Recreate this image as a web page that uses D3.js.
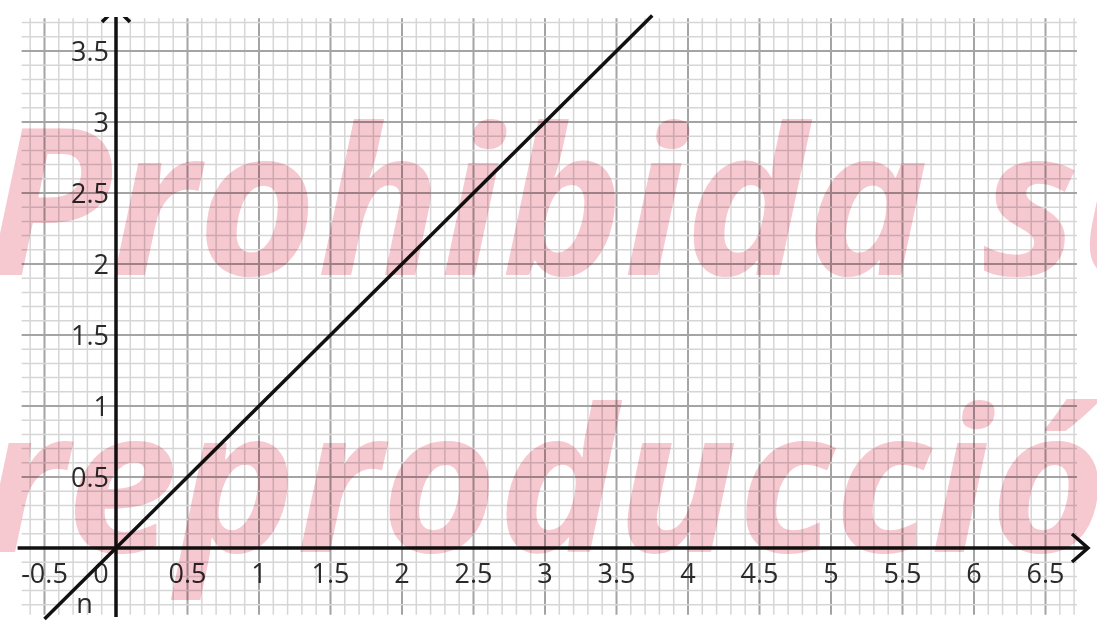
<!DOCTYPE html>
<html lang="es">
<head>
<meta charset="UTF-8">
<title>n</title>
<script src="https://d3js.org/d3.v7.min.js"></script>
<style>
  body { margin: 0; background: #fff; }
  svg { display: block; }
  .tick-label { font-family: 'Open Sans', sans-serif; font-size: 27px; fill: #2a2a2a; }
  .marca { font-family: 'Open Sans', sans-serif; font-weight: bold; font-style: italic; fill: #f6c8d0; mix-blend-mode: multiply; }
</style>
</head>
<body>
<svg width="1097" height="625"></svg>
<script>
// datos
const xTicks = [-0.5, 0, 0.5, 1, 1.5, 2, 2.5, 3, 3.5, 4, 4.5, 5, 5.5, 6, 6.5];
const yTicks = [0.5, 1, 1.5, 2, 2.5, 3, 3.5];
const lineX = [-0.5, 3.75];
const lineY = [-0.5, 3.75];
const lineName = "n";
const watermark = ["Prohibida su", "reproducción"];

const svg = d3.select("svg");

// escalas: 143 px por unidad en x, 142 en y
const x = d3.scaleLinear().domain([0, 1]).range([116, 259]);
const y = d3.scaleLinear().domain([0, 1]).range([548, 406]);

const gridLeft = -0.66, gridRight = 6.72, gridBottom = -0.47, gridTop = 3.73;

// rejilla fina (0.1)
const minorX = d3.range(-6, 68).map(i => i / 10);
const minorY = d3.range(-4, 38).map(i => i / 10);
const isMajor = d => Math.abs(d * 2 - Math.round(d * 2)) < 1e-6;

const grid = svg.append("g");
grid.selectAll(".mx").data(minorX).enter().append("line")
  .attr("x1", d => x(d)).attr("x2", d => x(d))
  .attr("y1", y(gridTop)).attr("y2", y(gridBottom))
  .attr("stroke", d => isMajor(d) ? "#a4a4a4" : "#d6d6d6")
  .attr("stroke-width", d => isMajor(d) ? 2 : 1.5);
grid.selectAll(".my").data(minorY).enter().append("line")
  .attr("y1", d => y(d)).attr("y2", d => y(d))
  .attr("x1", x(gridLeft)).attr("x2", x(gridRight))
  .attr("stroke", d => isMajor(d) ? "#a4a4a4" : "#d6d6d6")
  .attr("stroke-width", d => isMajor(d) ? 2 : 1.5);

// ejes
svg.append("line").attr("x1", x(gridLeft) - 4).attr("x2", 1088)
  .attr("y1", y(0)).attr("y2", y(0)).attr("stroke", "#111").attr("stroke-width", 3.5);
svg.append("path").attr("d", `M1072,534 L1088,${y(0)} L1072,562`)
  .attr("fill", "none").attr("stroke", "#111").attr("stroke-width", 3.5);
svg.append("line").attr("x1", x(0)).attr("x2", x(0))
  .attr("y1", 617).attr("y2", 14).attr("stroke", "#111").attr("stroke-width", 3.5);
svg.append("path").attr("d", `M${x(0) - 14},22 L${x(0)},8 L${x(0) + 14},22`)
  .attr("fill", "none").attr("stroke", "#111").attr("stroke-width", 3.5);
// franja blanca superior
svg.append("rect").attr("x", 0).attr("y", 0).attr("width", 1097).attr("height", 17).attr("fill", "#fff");

// etiquetas
svg.selectAll(".xl").data(xTicks).enter().append("text")
  .attr("class", "tick-label")
  .attr("x", d => d === 0 ? x(d) - 15 : x(d))
  .attr("y", y(0) + 35)
  .attr("text-anchor", "middle")
  .text(d => String(d));
svg.selectAll(".yl").data(yTicks).enter().append("text")
  .attr("class", "tick-label")
  .attr("x", x(0) - 7)
  .attr("y", d => y(d) + 10)
  .attr("text-anchor", "end")
  .text(d => String(d));

// recta
const line = d3.line().x(d => x(d[0])).y(d => y(d[1]));
svg.append("path").datum(d3.zip(lineX, lineY))
  .attr("d", line).attr("fill", "none").attr("stroke", "#111").attr("stroke-width", 3.5);
svg.append("text").attr("class", "tick-label")
  .attr("x", x(-0.22)).attr("y", y(-0.46)).attr("text-anchor", "middle").text(lineName);

// marca de agua
svg.append("text").attr("class", "marca").attr("font-size", 205)
  .attr("x", -14).attr("y", 275).text(watermark[0]);
svg.append("text").attr("class", "marca").attr("font-size", 200)
  .attr("x", -18).attr("y", 552).text(watermark[1]);
</script>
</body>
</html>
